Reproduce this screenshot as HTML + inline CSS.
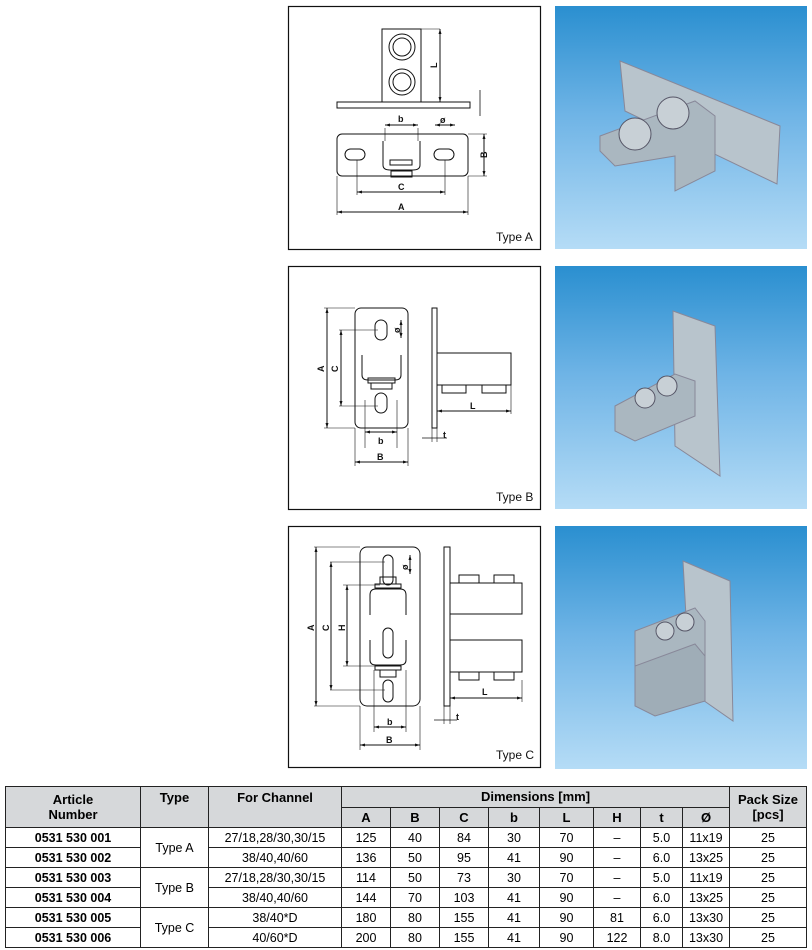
<!DOCTYPE html>
<html><head><meta charset="utf-8"><style>
body{margin:0;width:812px;height:950px;background:#fff;position:relative;font-family:"Liberation Sans",Arial,sans-serif;overflow:hidden}
.ph{position:absolute;left:555px;width:252px;height:243px;background:linear-gradient(#2a8fd0,#6fb4e6 45%,#b5dcf6)}
table{position:absolute;left:5px;top:786px;border-collapse:collapse;font-size:12.5px;width:802px}
td,th{border:1px solid #222;text-align:center;padding:0;height:19px}
th{background:#d6d8da;font-weight:bold;font-size:13px}
td.b{font-weight:bold}
svg.d line:not([stroke-width]){marker-start:url(#ar);marker-end:url(#ar)}
</style></head><body>
<svg class="d" width="812" height="780" style="position:absolute;left:0;top:0" font-family="Liberation Sans,Arial,sans-serif" font-size="9" stroke-linecap="butt">
<defs><marker id="ar" viewBox="0 0 10 10" refX="10" refY="5" markerWidth="5" markerHeight="5" orient="auto-start-reverse" markerUnits="userSpaceOnUse"><path d="M0 2 L10 5 L0 8z" fill="#111" stroke="none"/></marker></defs>
<g fill="none" stroke="#111" stroke-width="1">
<rect x="288.5" y="6.5" width="252" height="243" stroke-width="1.2"/>
<rect x="288.5" y="266.5" width="252" height="243" stroke-width="1.2"/>
<rect x="288.5" y="526.5" width="252" height="241" stroke-width="1.2"/>
<!-- Type A -->
<rect x="382" y="29" width="39" height="73"/>
<circle cx="402" cy="47" r="13"/><circle cx="402" cy="47" r="9"/>
<circle cx="402" cy="82" r="13"/><circle cx="402" cy="82" r="9"/>
<rect x="337" y="102" width="133" height="6"/>
<line x1="421" y1="29" x2="440" y2="29" stroke-width=".6"/><line x1="440" y1="29" x2="440" y2="102"/>
<rect x="337" y="134" width="131" height="42" rx="5"/>
<rect x="345" y="149" width="20" height="11" rx="5.5"/><rect x="434" y="149" width="20" height="11" rx="5.5"/>
<path d="M383 141 V165 Q383 170 390 170 H413 Q420 170 420 165 V141"/>
<rect x="390" y="160" width="22" height="5"/><rect x="391" y="171" width="21" height="6"/>
<line x1="385" y1="128" x2="385" y2="141" stroke-width=".6"/><line x1="418" y1="128" x2="418" y2="141" stroke-width=".6"/>
<line x1="385" y1="125" x2="418" y2="125"/>
<line x1="435" y1="125" x2="455" y2="125"/>
<line x1="468" y1="134" x2="487" y2="134" stroke-width=".6"/><line x1="468" y1="176" x2="487" y2="176" stroke-width=".6"/>
<line x1="484" y1="134" x2="484" y2="176"/>
<line x1="357" y1="160" x2="357" y2="195" stroke-width=".6"/><line x1="445" y1="160" x2="445" y2="195" stroke-width=".6"/>
<line x1="357" y1="192" x2="445" y2="192"/>
<line x1="337" y1="176" x2="337" y2="215" stroke-width=".6"/><line x1="468" y1="176" x2="468" y2="215" stroke-width=".6"/>
<line x1="337" y1="212" x2="468" y2="212"/>
<line x1="480" y1="90" x2="480" y2="116" stroke-width=".8"/>
<!-- Type B -->
<rect x="355" y="308" width="53" height="120" rx="6"/>
<rect x="375" y="320" width="12" height="20" rx="6"/><rect x="375" y="393" width="12" height="20" rx="6"/>
<path d="M362 355 V375 Q362 380 368 380 H395 Q401 380 401 375 V355"/>
<rect x="368" y="378" width="27" height="5"/><rect x="371" y="383" width="21" height="6"/>
<rect x="432" y="308" width="5" height="120"/>
<rect x="437" y="353" width="74" height="32"/>
<rect x="442" y="385" width="24" height="8"/><rect x="482" y="385" width="24" height="8"/>
<line x1="324" y1="308" x2="355" y2="308" stroke-width=".6"/><line x1="324" y1="428" x2="355" y2="428" stroke-width=".6"/>
<line x1="327" y1="308" x2="327" y2="428"/>
<line x1="339" y1="330" x2="378" y2="330" stroke-width=".6"/><line x1="339" y1="406" x2="378" y2="406" stroke-width=".6"/>
<line x1="341" y1="330" x2="341" y2="406"/>
<line x1="401" y1="320" x2="401" y2="338"/>
<line x1="365" y1="432" x2="397" y2="432"/><line x1="365" y1="400" x2="365" y2="448" stroke-width=".6"/><line x1="397" y1="400" x2="397" y2="448" stroke-width=".6"/>
<line x1="355" y1="462" x2="408" y2="462"/><line x1="355" y1="428" x2="355" y2="466" stroke-width=".6"/><line x1="408" y1="428" x2="408" y2="466" stroke-width=".6"/>
<line x1="437" y1="411" x2="511" y2="411"/><line x1="511" y1="385" x2="511" y2="414" stroke-width=".6"/>
<line x1="422" y1="438" x2="447" y2="438" stroke-width=".8"/><line x1="432" y1="428" x2="432" y2="442" stroke-width=".6"/><line x1="437" y1="428" x2="437" y2="442" stroke-width=".6"/>
<!-- Type C -->
<rect x="360" y="547" width="60" height="159" rx="7"/>
<rect x="383" y="555" width="10" height="30" rx="5"/><rect x="383" y="628" width="10" height="30" rx="5"/><rect x="383" y="680" width="10" height="22" rx="5"/>
<rect x="380" y="577" width="16" height="7"/><rect x="375" y="584" width="26" height="4"/>
<path d="M370 615 V595 Q370 589 376 589 H400 Q406 589 406 595 V615"/>
<path d="M370 640 V660 Q370 665 376 665 H400 Q406 665 406 660 V640"/>
<rect x="375" y="666" width="26" height="4"/><rect x="380" y="670" width="16" height="7"/>
<rect x="444" y="547" width="6" height="159"/>
<rect x="450" y="583" width="72" height="31"/><rect x="450" y="640" width="72" height="32"/>
<rect x="459" y="575" width="20" height="8"/><rect x="494" y="575" width="20" height="8"/>
<rect x="459" y="672" width="20" height="8"/><rect x="494" y="672" width="20" height="8"/>
<line x1="314" y1="547" x2="360" y2="547" stroke-width=".6"/><line x1="314" y1="706" x2="360" y2="706" stroke-width=".6"/>
<line x1="316" y1="547" x2="316" y2="706"/>
<line x1="330" y1="562" x2="385" y2="562" stroke-width=".6"/><line x1="330" y1="690" x2="385" y2="690" stroke-width=".6"/>
<line x1="331" y1="562" x2="331" y2="690"/>
<line x1="343" y1="585" x2="380" y2="585" stroke-width=".6"/><line x1="343" y1="666" x2="380" y2="666" stroke-width=".6"/>
<line x1="347" y1="585" x2="347" y2="666"/>
<line x1="410" y1="555" x2="410" y2="574"/>
<line x1="374" y1="727" x2="406" y2="727"/><line x1="374" y1="670" x2="374" y2="732" stroke-width=".6"/><line x1="406" y1="670" x2="406" y2="732" stroke-width=".6"/>
<line x1="360" y1="745" x2="420" y2="745"/><line x1="360" y1="706" x2="360" y2="750" stroke-width=".6"/><line x1="420" y1="706" x2="420" y2="750" stroke-width=".6"/>
<line x1="450" y1="698" x2="522" y2="698"/><line x1="522" y1="680" x2="522" y2="702" stroke-width=".6"/>
<line x1="434" y1="720" x2="457" y2="720" stroke-width=".8"/><line x1="444" y1="706" x2="444" y2="724" stroke-width=".6"/><line x1="450" y1="706" x2="450" y2="724" stroke-width=".6"/>
</g>
<g fill="#111" font-weight="bold">
<text x="398" y="122">b</text><text x="440" y="123">ø</text>
<text x="398" y="190">C</text><text x="398" y="210">A</text>
<text x="487" y="158" transform="rotate(-90 487 158)">B</text>
<text x="437" y="68" transform="rotate(-90 437 68)">L</text>
<text x="324" y="372" transform="rotate(-90 324 372)">A</text>
<text x="338" y="372" transform="rotate(-90 338 372)">C</text>
<text x="400" y="333" transform="rotate(-90 400 333)">ø</text>
<text x="378" y="444">b</text><text x="377" y="460">B</text>
<text x="470" y="409">L</text><text x="443" y="438">t</text>
<text x="314" y="631" transform="rotate(-90 314 631)">A</text>
<text x="329" y="631" transform="rotate(-90 329 631)">C</text>
<text x="345" y="631" transform="rotate(-90 345 631)">H</text>
<text x="408" y="570" transform="rotate(-90 408 570)">ø</text>
<text x="387" y="725">b</text><text x="386" y="743">B</text>
<text x="482" y="695">L</text><text x="456" y="720">t</text>
</g>
<g font-size="12" fill="#111"><text x="496" y="241">Type A</text><text x="496" y="501">Type B</text><text x="496" y="759">Type C</text></g>
</svg>
<div class="ph" style="top:6px"><svg width="252" height="243"><polygon points="65,55 225,120 222,178 70,105" fill="#b8c4cc" stroke="#889"/><polygon points="45,130 140,95 160,110 160,165 120,185 120,150 60,160 45,145" fill="#aab7c0" stroke="#889"/><circle cx="80" cy="128" r="16" fill="#c8d0d6" stroke="#556"/><circle cx="118" cy="107" r="16" fill="#c8d0d6" stroke="#556"/></svg></div>
<div class="ph" style="top:266px"><svg width="252" height="243"><polygon points="118,45 160,60 165,210 120,180" fill="#b8c4cc" stroke="#889"/><polygon points="60,140 120,108 140,115 140,150 80,175 60,165" fill="#aab7c0" stroke="#889"/><circle cx="90" cy="132" r="10" fill="#c8d0d6" stroke="#556"/><circle cx="112" cy="120" r="10" fill="#c8d0d6" stroke="#556"/></svg></div>
<div class="ph" style="top:526px"><svg width="252" height="243"><polygon points="128,35 175,55 178,195 135,165" fill="#b8c4cc" stroke="#889"/><polygon points="80,105 140,82 150,95 150,130 100,150 80,140" fill="#aab7c0" stroke="#889"/><polygon points="80,140 140,118 150,130 150,175 100,190 80,180" fill="#9fadb7" stroke="#889"/><circle cx="110" cy="105" r="9" fill="#c8d0d6" stroke="#556"/><circle cx="130" cy="96" r="9" fill="#c8d0d6" stroke="#556"/></svg></div>
<table>
<colgroup><col style="width:135px"><col style="width:68px"><col style="width:133px"><col style="width:49px"><col style="width:49px"><col style="width:49px"><col style="width:51px"><col style="width:54px"><col style="width:47px"><col style="width:42px"><col style="width:47px"><col></colgroup>
<tr><th rowspan="2" style="height:40px;line-height:15px">Article<br>Number</th><th rowspan="2" style="vertical-align:top;padding-top:3px">Type</th><th rowspan="2" style="vertical-align:top;padding-top:3px">For Channel</th><th colspan="8">Dimensions [mm]</th><th rowspan="2" style="line-height:15px">Pack Size<br>[pcs]</th></tr>
<tr><th>A</th><th>B</th><th>C</th><th>b</th><th>L</th><th>H</th><th>t</th><th>Ø</th></tr>
<tr><td class="b">0531 530 001</td><td rowspan="2">Type A</td><td>27/18,28/30,30/15</td><td>125</td><td>40</td><td>84</td><td>30</td><td>70</td><td>–</td><td>5.0</td><td>11x19</td><td>25</td></tr>
<tr><td class="b">0531 530 002</td><td>38/40,40/60</td><td>136</td><td>50</td><td>95</td><td>41</td><td>90</td><td>–</td><td>6.0</td><td>13x25</td><td>25</td></tr>
<tr><td class="b">0531 530 003</td><td rowspan="2">Type B</td><td>27/18,28/30,30/15</td><td>114</td><td>50</td><td>73</td><td>30</td><td>70</td><td>–</td><td>5.0</td><td>11x19</td><td>25</td></tr>
<tr><td class="b">0531 530 004</td><td>38/40,40/60</td><td>144</td><td>70</td><td>103</td><td>41</td><td>90</td><td>–</td><td>6.0</td><td>13x25</td><td>25</td></tr>
<tr><td class="b">0531 530 005</td><td rowspan="2">Type C</td><td>38/40*D</td><td>180</td><td>80</td><td>155</td><td>41</td><td>90</td><td>81</td><td>6.0</td><td>13x30</td><td>25</td></tr>
<tr><td class="b">0531 530 006</td><td>40/60*D</td><td>200</td><td>80</td><td>155</td><td>41</td><td>90</td><td>122</td><td>8.0</td><td>13x30</td><td>25</td></tr>
</table>
</body></html>
